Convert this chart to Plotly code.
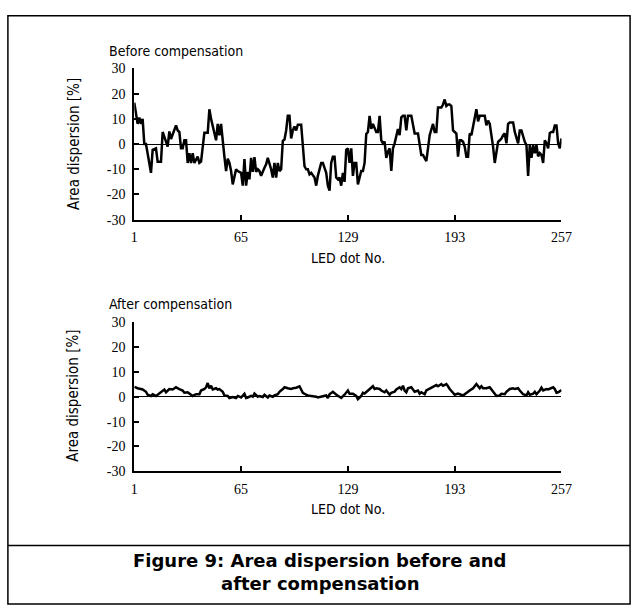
import plotly.graph_objects as go

# ---- data ----
before_dot = [1, 2, 3, 4, 5, 6, 7, 8, 11, 12, 14, 15, 17, 18, 19, 21, 22, 23, 26, 27, 28, 29, 30, 31, 32, 33, 34, 35, 36, 37, 39, 40, 41, 42, 43, 45, 46, 47, 49, 50, 51, 52, 53, 54, 55, 56, 57, 58, 59, 60, 61, 62,
              63, 65, 66, 67, 68, 69, 70, 71, 72, 73, 74, 75, 76, 77, 79, 80, 81, 82, 83, 84, 85, 86, 87, 88, 89, 90, 91, 92, 93, 94, 95, 96, 97, 98, 99, 101, 102, 103, 104, 105, 106, 107, 109, 110, 111, 112, 113, 114, 116, 117, 118, 119, 120, 121, 122, 123, 124, 125, 126, 127, 128,
              129, 130, 131, 132, 133, 134, 135, 136, 137, 138, 139, 140, 141, 142, 143, 144, 145, 146, 147, 148, 149, 150, 151, 152, 153, 154, 155, 156, 157, 158, 159, 160, 161, 162, 163, 164, 165, 167, 168, 169, 171, 172, 173, 174, 176, 177, 178, 180, 181, 182, 183, 185, 186, 187, 188, 189, 190, 191, 192, 193, 194,
              195, 196, 197, 198, 199, 200, 201, 202, 203, 204, 205, 206, 207, 208, 210, 211, 212, 213, 214, 215, 216, 217, 218, 219, 220, 221, 222, 223, 224, 225, 226, 228, 229, 230, 231, 232, 233, 235, 236, 237, 238, 239, 240, 241, 242, 243, 244, 245, 246, 247, 248, 249, 250, 251, 252, 253, 254, 255, 256, 257]
before_val = [16.4, 12, 8, 10.5, 8, 10, 0, 0, -11.4, -2.3, -1.7, -7, -7, 4.8, 3, -1, 5, 2, 7.4, 5.4, 4.8, -1.7, -1.7, 1.5, 1.5, -7.5, -3.6, -7.5, -3.6, -7.5, -5, -7.5, -7, 0, 4.5, 4.5, 13.8, 10, 4.8, 1.5, 8, 3.5, 8, 0, -5, -10.7, -5.8, -7.5, -10.7, -16, -12.6, -10,
              -10.7, -11.4, -16.5, -6, -16.5, -11, -14, -5.5, -11, -5.2, -11, -10, -10.7, -12.6, -9.4, -8, -5.5, -7.5, -10, -13.3, -7.5, -13.3, -7.5, -10.7, -10, 1.3, 1.8, 5.4, 11.2, 11.2, 2.2, 5.4, 7, 5.4, 7.7, 7.7, 0, -8.8, -10, -10, -12, -11.4, -13.3, -16.5, -12.6, -10, -7.5, -7.5, -11.4, -16.5, -18.5, -7.5, -5, -5, -13.3, -14, -13.3, -16.5, -11.4, -15, -2.3,
              -1.7, -7.5, -1.7, -12.6, -7.5, -7.5, -16, -12.6, -10.7, -10.7, -7.5, 4, 4.8, 11.2, 6, 8, 6, 4.8, 4.8, 11.2, 1.5, 0.3, 1, -5.5, -3, -1.7, -10.7, -1.7, 0.3, 2.8, 6, 3.5, 10.6, 11.2, 11.2, 5.4, 11.2, 11.2, 8, 4.2, 4.2, 0.3, -4.3, -4.3, -6.8, -1.7, 3.5, 8, 4.8, 4.8, 14.5, 14.5, 15.7, 17.7, 15.1, 15.7, 15.7, 15.1, 5.4, 4.8, 4.2,
              -5, 1.5, 1.5, 0.9, -1, -5, -5, 4.2, 3.5, 7.4, 10.6, 13.8, 9, 11.2, 11.2, 11.2, 7.4, 9.3, 8, 4.2, -1, -7.5, -3, 0.9, 1.5, 2.2, 3.5, 4.2, 0.3, 8, 8.6, 8.6, 4.8, 2.2, 0.3, 5.4, 5.4, 0.9, -0.4, -12.6, -0.4, -5.5, -0.4, -3.6, -0.4, -4.9, -3.6, -4.3, -7.5, 1.5, 0.3, -1.7, 4.4, 4.8, 4.8, 7.4, 7.4, 0.3, -1.7, 2.2]

after_dot = [1, 3, 6, 8, 9, 11, 12, 14, 15, 17, 19, 20, 22, 24, 26, 28, 30, 31, 33, 35, 36, 38, 40, 41, 43, 44, 45, 46, 47, 48, 50, 51, 52, 54, 55, 57, 58, 60, 62, 63, 65, 67, 68, 69, 71, 72, 73, 75, 76, 78, 79, 81, 82, 84, 85, 87, 88, 90, 91, 93, 95, 96, 98, 100, 101, 102, 104, 105, 107, 108, 110, 111, 113, 114, 116, 117, 118, 120, 121, 123, 124, 125, 127, 128,
             129, 130, 131, 132, 134, 135, 137, 138, 139, 141, 142, 144, 145, 146, 148, 149, 151, 152, 154, 155, 157, 158, 160, 161, 162, 163, 164, 165, 167, 168, 169, 171, 172, 173, 175, 176, 177, 179, 180, 182, 183, 185, 186, 188, 189, 190, 192, 193, 195, 196, 198, 199, 201, 202, 204, 205, 206, 208, 209, 210, 212, 214, 215, 217, 218, 220, 221, 223, 224, 226, 228, 229, 231, 232, 233, 234, 236, 237, 238, 240, 241, 242, 244, 245, 246, 248, 249, 251, 252, 253, 254, 255, 257]
after_val = [4.0, 3.4, 2.9, 2.0, 0.8, 0.3, 1.0, 0.3, 0.8, 1.8, 2.9, 1.8, 3.1, 2.9, 3.8, 3.1, 2.5, 1.6, 1.8, 0.8, 0.3, 1.0, 1.0, 2.5, 3.1, 3.8, 5.5, 3.4, 4.4, 2.9, 3.4, 2.9, 3.1, 2.0, 0.5, 0.3, -0.5, -0.1, -0.5, 0.3, -0.3, 1.2, -0.5, -0.3, 0.3, 0.0, 1.3, 0.0, 0.3, -0.1, 0.8, -0.3, 0.5, 0.0, 0.5, 1.0, 2.0, 3.1, 3.8, 3.4, 3.1, 3.4, 3.6, 4.2, 2.5, 1.6, 0.8, 0.5, 0.3, 0.3, 0.0, -0.3, 0.0, 0.3, 0.5, -0.5, 1.0, 2.0, 1.3, 0.3, 0.0, -0.5, 0.8, 1.8,
             2.5, 1.2, 1.3, 1.2, 0.3, -1.0, 0.3, 1.6, 1.3, 2.5, 3.4, 4.2, 3.1, 3.4, 3.1, 2.5, 1.8, 2.5, 0.8, 1.6, 2.0, 2.9, 3.8, 3.1, 4.4, 2.5, 1.8, 3.4, 3.8, 3.1, 2.0, 2.5, 1.2, 1.8, 1.0, 2.5, 2.9, 3.4, 3.8, 4.7, 4.2, 5.1, 4.4, 5.1, 4.2, 3.1, 1.6, 0.8, 1.3, 1.0, 0.5, 1.0, 1.8, 2.5, 3.4, 4.2, 5.1, 3.4, 4.2, 3.4, 3.4, 3.8, 2.9, 1.2, 0.3, 0.5, 1.2, 1.0, 2.0, 3.1, 3.4, 3.1, 3.4, 2.5, 1.6, 1.0, 0.5, 1.8, 0.8, 1.2, 2.0, 1.0, 2.5, 3.6, 2.5, 3.1, 2.9, 3.4, 3.8, 3.1, 1.6, 1.8, 2.7]

x_ticks = [1, 65, 129, 193, 257]
y_ticks = [-30, -20, -10, 0, 10, 20, 30]
y_tick_text = ["-30", "-20", "-10", "0", "10", "20", "30"]
panel_titles = ["Before compensation", "After compensation"]
x_title = "LED dot No."
y_title = "Area dispersion [%]"
caption_lines = ["Figure 9: Area dispersion before and", "after compensation"]

W, H = 644, 613
SERIF = "Liberation Serif, Times New Roman, serif"
NARROW = "DejaVu Sans Condensed, Liberation Sans Narrow, Arial Narrow, sans-serif"

def px_x(p):
    return p / W

def px_y(p):
    return 1 - p / H

fig = go.Figure()
fig.add_trace(go.Scatter(x=before_dot, y=before_val, mode="lines",
                         line=dict(color="black", width=2.5), xaxis="x", yaxis="y",
                         showlegend=False))
fig.add_trace(go.Scatter(x=after_dot, y=after_val, mode="lines",
                         line=dict(color="black", width=2.5), xaxis="x2", yaxis="y2",
                         showlegend=False))

xcommon = dict(range=[1, 257], tickvals=x_ticks, ticks="inside", ticklen=5, tickwidth=1.5,
               tickcolor="black", showline=True, linecolor="black", linewidth=2,
               showgrid=False, zeroline=False,
               tickfont=dict(family=SERIF, size=14, color="black"), ticklabelstandoff=4)
ycommon = dict(range=[-30, 30], tickvals=y_ticks, ticktext=y_tick_text, ticks="inside",
               ticklen=5, tickwidth=1.5, tickcolor="black", showline=True,
               linecolor="black", linewidth=2, showgrid=False, zeroline=True,
               zerolinecolor="black", zerolinewidth=1,
               tickfont=dict(family=SERIF, size=14, color="black"), ticklabelstandoff=4)

top_y = [px_y(218), px_y(63)]
bot_y = [px_y(476), px_y(323)]
xdom = [px_x(134), px_x(570)]

fig.update_layout(
    width=W, height=H,
    margin=dict(l=0, r=0, t=0, b=0),
    paper_bgcolor="white", plot_bgcolor="white",
    xaxis=dict(domain=xdom, anchor="y", **xcommon),
    yaxis=dict(domain=top_y, anchor="x", **ycommon),
    xaxis2=dict(domain=xdom, anchor="y2", **xcommon),
    yaxis2=dict(domain=bot_y, anchor="x2", **ycommon),
)

ann = []
for title, ycen, axcen in [(panel_titles[0], 45, 141), (panel_titles[1], 304, 399)]:
    ann.append(dict(text=title, x=px_x(106), y=px_y(ycen), xref="paper", yref="paper",
                    xanchor="left", yanchor="middle", showarrow=False,
                    font=dict(family=NARROW, size=14, color="black")))
    ann.append(dict(text=y_title, x=px_x(72), y=px_y(axcen), xref="paper", yref="paper",
                    xanchor="center", yanchor="middle", textangle=-90, showarrow=False,
                    font=dict(family=NARROW, size=15, color="black")))
for yc in [257, 515]:
    ann.append(dict(text=x_title, x=px_x(352), y=px_y(yc), xref="paper", yref="paper",
                    xanchor="center", yanchor="middle", showarrow=False,
                    font=dict(family=NARROW, size=14, color="black")))
for line_text, yc in zip(caption_lines, [567, 591]):
    ann.append(dict(text="<b>" + line_text + "</b>",
                    x=px_x(324), y=px_y(yc), xref="paper", yref="paper",
                    xanchor="center", yanchor="middle", showarrow=False,
                    font=dict(family="DejaVu Sans, sans-serif", size=18, color="black")))
fig.update_layout(annotations=ann)

fig.update_layout(shapes=[
    dict(type="rect", xref="paper", yref="paper", x0=px_x(5), x1=px_x(640),
         y0=px_y(612), y1=px_y(9), line=dict(color="black", width=1.5)),
    dict(type="line", xref="paper", yref="paper", x0=px_x(5), x1=px_x(640),
         y0=px_y(552), y1=px_y(552), line=dict(color="black", width=1.5)),
])

fig.write_html("out.html",
               post_script="document.body.style.margin='0';document.body.style.overflow='hidden';",
               config={"displayModeBar": False})
